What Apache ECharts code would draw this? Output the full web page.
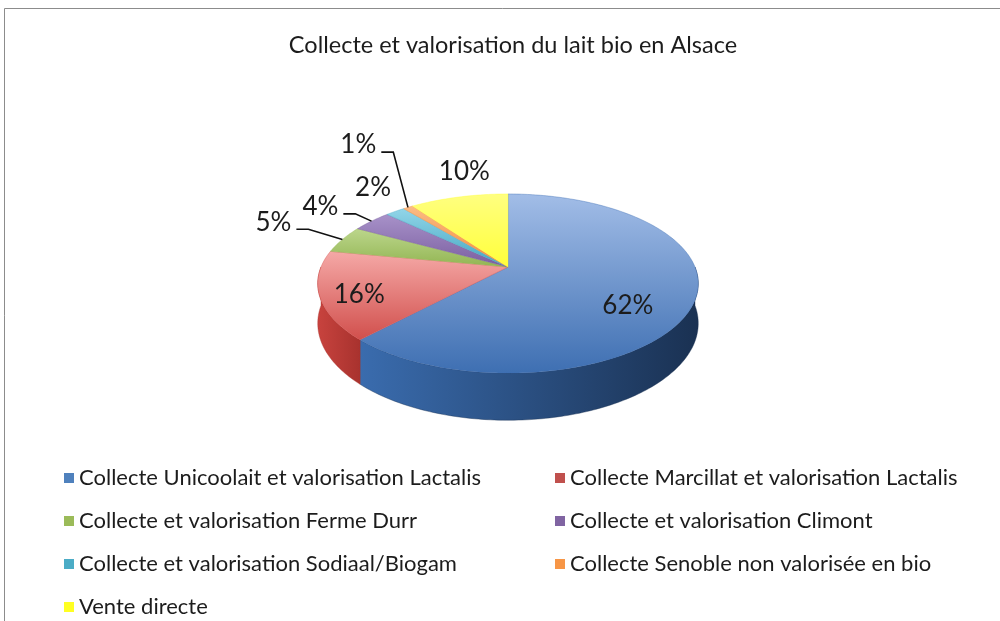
<!DOCTYPE html>
<html>
<head>
<meta charset="utf-8">
<script src="https://cdn.jsdelivr.net/npm/echarts@6/dist/echarts.min.js"></script>
<style>
  html, body { margin: 0; padding: 0; background: #fff; }
  #main { width: 1000px; height: 621px; }
</style>
</head>
<body>
<div id="main"></div>
<script>
// données du graphique
const categories = [
  'Collecte Unicoolait et valorisation Lactalis',
  'Collecte Marcillat et valorisation Lactalis',
  'Collecte et valorisation Ferme Durr',
  'Collecte et valorisation Climont',
  'Collecte et valorisation Sodiaal/Biogam',
  'Collecte Senoble non valorisée en bio',
  'Vente directe'
]
const shares = [62, 16, 5, 4, 2, 1, 10]
const shareLabels = ['62%', '16%', '5%', '4%', '2%', '1%', '10%']

// couleurs (style Office)
const legendColors = ['#4f81bd', '#c0504d', '#9bbb59', '#8064a2', '#4bacc6', '#f79646', '#ffff22']
const topLight = ['#a2bde7', '#f5a9a7', '#bcd68c', '#a892c9', '#92d5e8', '#fbbb86', '#ffff80']
const topBase = ['#3e6fb2', '#d14f4c', '#92b552', '#7a5ea0', '#43a6c2', '#f28d3c', '#ffff3a']
const sideLight = ['#3a6cae', '#c8433e', '#86a84a', '#6d5290', '#3b97ad', '#d97b31', '#e0e030']
const sideDark = ['#1a3152', '#a8322e', '#5e7a30', '#4b3866', '#286a7a', '#a55a20', '#a8a820']

// placement des étiquettes (rayon relatif, décalage angulaire, trait de rappel)
const labelRadius = [0.72, 0.81, 1.5, 1.4, 1.4, 2.19, 1.41]
const labelTurn = [13, -4, 2.6, -1.3, 4.9, 8.2, 6]
const labelLeader = [false, false, true, true, false, true, false]

// géométrie du camembert 3D
const CX = 508, CY = 267, R = 187, RY = 86.5, PERSP = -0.1844, DEPTH = 38.5

const total = shares.reduce((a, b) => a + b, 0)
const startAngles = []
shares.reduce((acc, v, i) => { startAngles[i] = acc; return acc + v / total * 360 }, 0)

function proj (u, v, h) {
  const s = 1 + PERSP * v
  return [CX + R * u / s, CY + RY * v / s + (h ? DEPTH / s : 0)]
}
function rim (deg, r, h) {
  const a = deg * Math.PI / 180
  return proj(r * Math.sin(a), -r * Math.cos(a), h)
}
function arc (a0, a1, h) {
  const pts = []
  const n = Math.max(2, Math.ceil(Math.abs(a1 - a0)))
  for (let k = 0; k <= n; k++) pts.push(rim(a0 + (a1 - a0) * k / n, 1, h))
  return pts
}

function renderSlice (params, api) {
  const i = params.dataIndex
  const a0 = startAngles[i]
  const a1 = a0 + api.value(0) / total * 360
  const children = []

  // face latérale visible (avant du disque)
  const s0 = Math.max(a0, 90), s1 = Math.min(a1, 270)
  if (s1 > s0) {
    const pts = arc(s0, s1, 0).concat(arc(s1, s0, 1))
    children.push({
      type: 'polygon',
      z2: 1,
      shape: { points: pts },
      style: {
        fill: new echarts.graphic.LinearGradient(0, 0, 1, 0, [
          { offset: 0, color: sideLight[i] },
          { offset: 1, color: sideDark[i] }
        ]),
        stroke: sideDark[i],
        lineWidth: 0.4
      }
    })
  }

  // face supérieure
  const topPts = [proj(0, 0, 0)].concat(arc(a0, a1, 0))
  children.push({
    type: 'polygon',
    z2: 5,
    shape: { points: topPts },
    style: {
      fill: new echarts.graphic.LinearGradient(0, 0, 0, 1, [
        { offset: 0, color: topLight[i] },
        { offset: 1, color: topBase[i] }
      ]),
      stroke: topBase[i],
      lineWidth: 0.4
    }
  })

  // étiquette
  const mid = (a0 + a1) / 2
  const lp = rim(mid + labelTurn[i], labelRadius[i], 0)
  children.push({
    type: 'text',
    z2: 20,
    style: {
      text: shareLabels[i],
      x: lp[0],
      y: lp[1],
      align: 'center',
      verticalAlign: 'middle',
      fill: '#1c1c1c',
      font: '26px Lato'
    }
  })
  if (labelLeader[i]) {
    const end = rim(mid, 1, 0)
    children.push({
      type: 'polyline',
      z2: 20,
      shape: { points: [[lp[0] + 23, lp[1] + 7], [lp[0] + 35, lp[1] + 7], end] },
      style: { stroke: '#111', lineWidth: 1.6, fill: null }
    })
  }
  return { type: 'group', children }
}

const chart = echarts.init(document.getElementById('main'))
const legendStyle = {
  orient: 'vertical',
  icon: 'rect',
  padding: 0,
  itemWidth: 10,
  itemHeight: 10,
  itemGap: 21,
  textStyle: { fontFamily: 'Lato', fontSize: 22, lineHeight: 22, color: '#1c1c1c' }
}
const option = {
  animation: false,
  backgroundColor: '#fff',
  title: {
    text: 'Collecte et valorisation du lait bio en Alsace',
    left: 508,
    top: 28,
    textAlign: 'center',
    textStyle: { fontFamily: 'Lato', fontSize: 23.5, fontWeight: 'normal', color: '#1c1c1c' }
  },
  graphic: [{
    type: 'rect',
    shape: { x: 4.5, y: 8.5, width: 1200, height: 800 },
    style: { fill: null, stroke: '#8c8c8c', lineWidth: 1 },
    silent: true
  }],
  legend: [
    Object.assign({ left: 64, top: 467, data: [categories[0], categories[2], categories[4], categories[6]] }, legendStyle),
    Object.assign({ left: 555, top: 467, data: [categories[1], categories[3], categories[5]] }, legendStyle)
  ],
  series: [
    {
      // série fantôme : fournit les couleurs de la légende
      type: 'pie',
      radius: [0, 0],
      silent: true,
      label: { show: false },
      labelLine: { show: false },
      data: categories.map((name, i) => ({ name, value: shares[i], itemStyle: { color: legendColors[i] } }))
    },
    {
      type: 'custom',
      coordinateSystem: 'none',
      silent: true,
      renderItem: renderSlice,
      data: shares.map((v, i) => ({ name: categories[i], value: [v] }))
    }
  ]
}
chart.setOption(option)
</script>
</body>
</html>
